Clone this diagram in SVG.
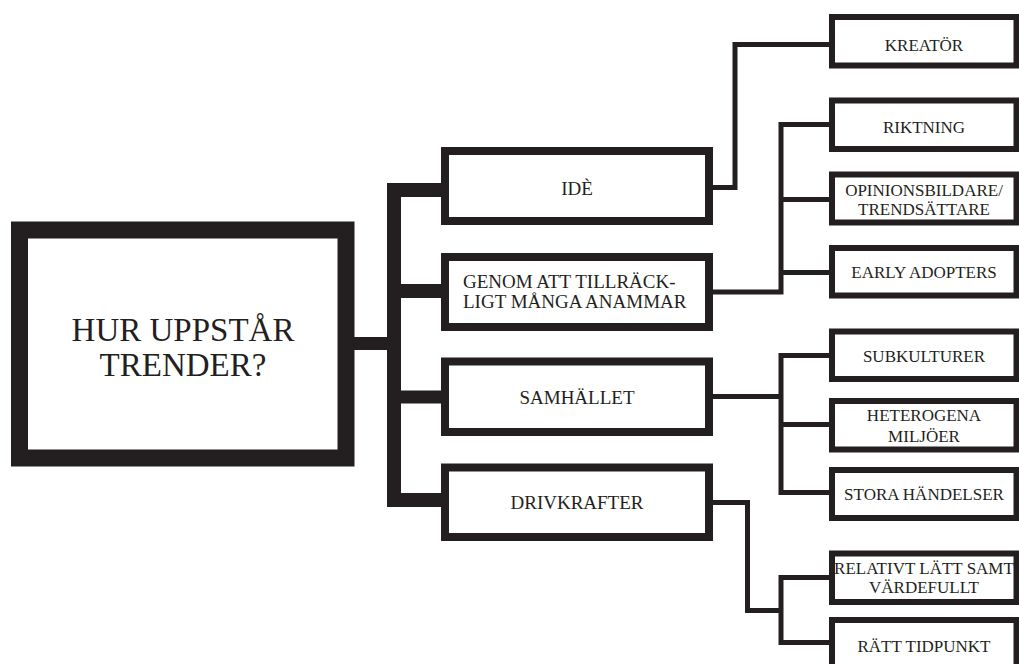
<svg xmlns="http://www.w3.org/2000/svg" width="1019" height="664" viewBox="0 0 1019 664">
<style>
.box{fill:#fff;stroke:#231f20;stroke-linejoin:miter}
.main{stroke-width:17}
.mid{stroke-width:8}
.leaf{stroke-width:6}
.c{fill:none;stroke:#231f20;stroke-linejoin:miter;stroke-linecap:butt}
text{font-family:'Liberation Serif','DejaVu Serif',serif;fill:#231f20;text-anchor:middle}
.tm{font-size:33px}
.t2{font-size:19px}
.t3{font-size:17px}
</style>
<rect width="1019" height="664" fill="#fff"/>
<g id="connectors">
<path class="c" d="M354,343.5 H394" stroke-width="13"/>
<path class="c" d="M441,190 H394 V500 H441" stroke-width="14"/>
<path class="c" d="M394,291 H441" stroke-width="14"/>
<path class="c" d="M394,397 H441" stroke-width="13"/>
<path class="c" d="M713,187.5 H735 V44.5 H829" stroke-width="5"/>
<path class="c" d="M713,292 H781 V124.5 H829" stroke-width="5"/>
<path class="c" d="M781,199.5 H829 M781,272.5 H829" stroke-width="5"/>
<path class="c" d="M713,396.5 H781" stroke-width="5"/>
<path class="c" d="M829,355.5 H781 V492.5 H829" stroke-width="5"/>
<path class="c" d="M781,424.5 H829" stroke-width="5"/>
<path class="c" d="M713,502.5 H747.5 V610.5 H781" stroke-width="5"/>
<path class="c" d="M829,577.5 H781 V642.5 H829" stroke-width="5"/>
</g>
<g id="root">
<rect class="box main" x="19.5" y="230" width="326.5" height="228"/>
<text class="tm" x="183" y="341" font-family="Liberation Serif, DejaVu Serif, serif">HUR UPPSTÅR</text>
<text class="tm" x="183" y="376" font-family="Liberation Serif, DejaVu Serif, serif">TRENDER?</text>
</g>
<g id="ide">
<rect class="box mid" x="445" y="151" width="264" height="70"/>
<text class="t2" x="577" y="195">IDÈ</text>
</g>
<g id="genom">
<rect class="box mid" x="445" y="257" width="264" height="70"/>
<text class="t2" x="463" y="288" style="text-anchor:start">GENOM ATT TILLRÄCK-</text>
<text class="t2" x="463" y="308" style="text-anchor:start">LIGT MÅNGA ANAMMAR</text>
</g>
<g id="samhallet">
<rect class="box mid" x="445" y="361.5" width="264" height="70.5"/>
<text class="t2" x="577" y="404">SAMHÄLLET</text>
</g>
<g id="drivkrafter">
<rect class="box mid" x="445" y="467.5" width="264" height="69.5"/>
<text class="t2" x="577" y="509">DRIVKRAFTER</text>
</g>
<g id="kreator">
<rect class="box leaf" x="832" y="17" width="184.5" height="48.5"/>
<text class="t3" x="924" y="50.5">KREATÖR</text>
</g>
<g id="riktning">
<rect class="box leaf" x="832" y="100.5" width="184.5" height="48.5"/>
<text class="t3" x="924" y="132.5">RIKTNING</text>
</g>
<g id="opinionsbildare">
<rect class="box leaf" x="832" y="174.5" width="184.5" height="48"/>
<text class="t3" x="924" y="196">OPINIONSBILDARE/</text>
<text class="t3" x="924" y="214.5">TRENDSÄTTARE</text>
</g>
<g id="early">
<rect class="box leaf" x="832" y="248" width="184.5" height="47.5"/>
<text class="t3" x="924" y="278">EARLY ADOPTERS</text>
</g>
<g id="subkulturer">
<rect class="box leaf" x="832" y="331.5" width="184.5" height="47.5"/>
<text class="t3" x="924" y="361.5">SUBKULTURER</text>
</g>
<g id="heterogena">
<rect class="box leaf" x="832" y="401" width="184.5" height="48.5"/>
<text class="t3" x="924" y="420.5">HETEROGENA</text>
<text class="t3" x="924" y="441.5">MILJÖER</text>
</g>
<g id="stora">
<rect class="box leaf" x="832" y="470" width="184.5" height="48"/>
<text class="t3" x="924" y="500">STORA HÄNDELSER</text>
</g>
<g id="relativt">
<rect class="box leaf" x="832" y="553.5" width="184.5" height="48.5"/>
<text class="t3" x="924" y="574">RELATIVT LÄTT SAMT</text>
<text class="t3" x="924" y="593">VÄRDEFULLT</text>
</g>
<g id="ratt">
<rect class="box leaf" x="832" y="620" width="184.5" height="48"/>
<text class="t3" x="924" y="652">RÄTT TIDPUNKT</text>
</g>
</svg>
